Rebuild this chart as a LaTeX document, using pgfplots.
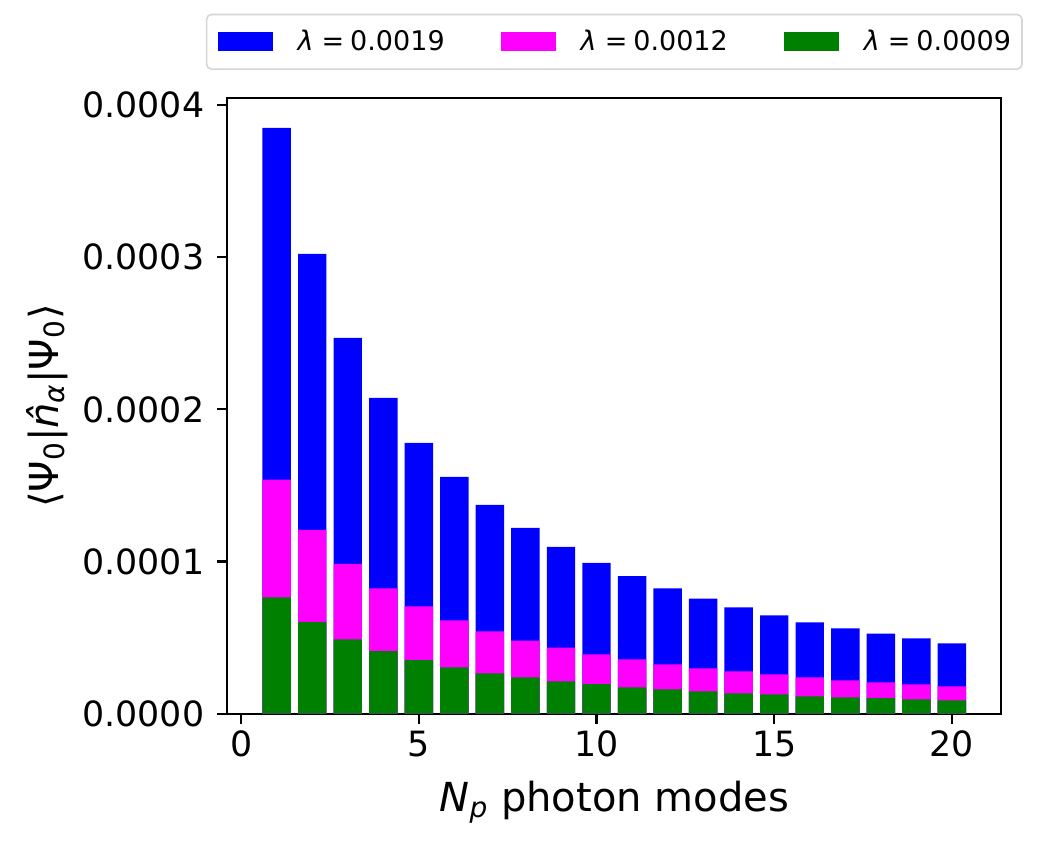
\documentclass[border=0pt]{standalone}
\usepackage{fontspec}
\setmainfont{DejaVu Sans}
\usepackage{pgfplots}
\usepackage{pgfplotstable}
\pgfplotsset{compat=1.18}
\definecolor{mplblue}{HTML}{0000FF}
\definecolor{mplmag}{HTML}{FF00FF}
\definecolor{mplgreen}{HTML}{008000}
\definecolor{legframe}{HTML}{D6D6D6}
\pgfplotsset{mybar/.style={ybar, bar width=0.8, bar shift=0pt, draw=none,
  legend image code/.code={\fill[##1, sharp corners] (0pt,-4.7pt) rectangle (27.5pt,4.7pt);}}}
\pgfplotstableread{
N b m g
1  3.850e-4 1.538e-4 0.765e-4
2  3.022e-4 1.208e-4 0.602e-4
3  2.470e-4 0.984e-4 0.488e-4
4  2.076e-4 0.823e-4 0.411e-4
5  1.780e-4 0.705e-4 0.352e-4
6  1.556e-4 0.613e-4 0.304e-4
7  1.372e-4 0.541e-4 0.265e-4
8  1.221e-4 0.481e-4 0.238e-4
9  1.096e-4 0.435e-4 0.212e-4
10 0.991e-4 0.390e-4 0.194e-4
11 0.904e-4 0.357e-4 0.173e-4
12 0.823e-4 0.324e-4 0.160e-4
13 0.757e-4 0.298e-4 0.146e-4
14 0.698e-4 0.278e-4 0.133e-4
15 0.646e-4 0.258e-4 0.127e-4
16 0.600e-4 0.238e-4 0.114e-4
17 0.560e-4 0.219e-4 0.107e-4
18 0.527e-4 0.206e-4 0.102e-4
19 0.495e-4 0.193e-4 0.094e-4
20 0.462e-4 0.179e-4 0.087e-4
}\data
\begin{document}
\begin{tikzpicture}
\path[use as bounding box] (-113.65pt,-66.65pt) rectangle (406.35pt,356.85pt);
\begin{axis}[
  at={(0,0)}, anchor=south west,
  scale only axis, width=387pt, height=307.7pt,
  xmin=-0.39, xmax=21.39, ymin=0, ymax=4.044e-4,
  xtick={0,5,10,15,20},
  ytick={0,0.0001,0.0002,0.0003,0.0004},
  scaled y ticks=false,
  yticklabel style={xshift=-3pt, /pgf/number format/.cd, fixed, fixed zerofill, precision=4},
  /pgf/number format/assume math mode=true,
  tick align=outside, tick pos=left, major tick length=5pt,
  axis line style={line width=1.1pt},
  every tick/.style={black, line width=1.1pt},
  tick label style={font=\fontsize{17.4}{20}\selectfont},
  xlabel={{\itshape N}\textsubscript{\itshape p} photon modes},
  ylabel={⟨Ψ\textsubscript{0}|{\itshape n̂}\textsubscript{\itshape α}|Ψ\textsubscript{0}⟩},
  label style={font=\fontsize{20}{24}\selectfont},
  xlabel style={at={(axis description cs:0.5,0)}, anchor=base, yshift=-48.65pt, inner sep=0pt},
  ylabel style={at={(axis description cs:-0.2329,0.5)}, anchor=center, rotate=0, inner sep=0pt},
  legend columns=3,
  legend cell align=left,
  legend style={at={(axis description cs:0.5,1)}, anchor=south, yshift=14.15pt,
    draw=legframe, line width=0.8pt, rounded corners=2.5pt,
    font=\fontsize{13.5}{16}\selectfont,
    inner xsep=5.5pt, inner ysep=7.8pt,
    nodes={inner sep=0pt},
    /tikz/every odd column/.append style={column sep=12.5pt},
    /tikz/every even column/.append style={column sep=28pt}},
]
\addplot[mybar, fill=mplblue] table[x=N, y=b] {\data};
\addlegendentry{{\itshape λ}\hspace{0.3em}=\hspace{0.22em}0.0019}
\addplot[mybar, fill=mplmag] table[x=N, y=m] {\data};
\addlegendentry{{\itshape λ}\hspace{0.3em}=\hspace{0.22em}0.0012}
\addplot[mybar, fill=mplgreen] table[x=N, y=g] {\data};
\addlegendentry{{\itshape λ}\hspace{0.3em}=\hspace{0.22em}0.0009}
\end{axis}
\end{tikzpicture}
\end{document}
